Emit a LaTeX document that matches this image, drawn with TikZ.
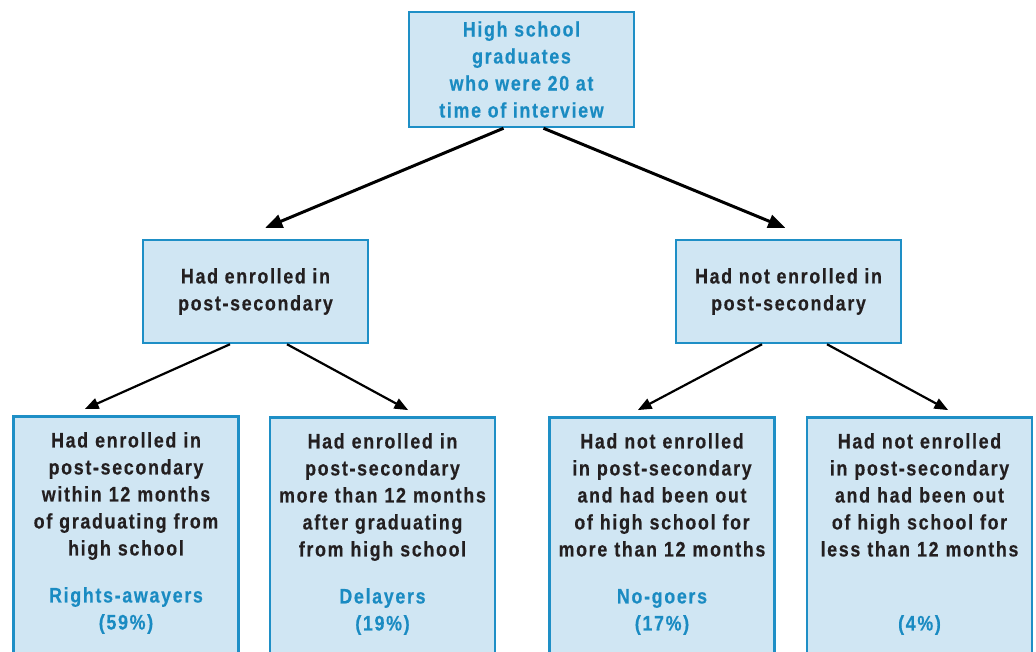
\documentclass[tikz,border=0pt]{standalone}
\usepackage{fontspec}
\setmainfont{Liberation Sans}[FakeStretch=0.85, LetterSpace=8, BoldFeatures={FakeBold=0.4}]
\usepackage{xcolor}
\usetikzlibrary{arrows, calc}
\definecolor{boxfill}{HTML}{D0E6F3}
\definecolor{boxline}{HTML}{1E8FC6}
\definecolor{tblue}{HTML}{1A8BC2}
\definecolor{ink}{HTML}{231F20}
\newcommand\gap{\\[20pt]}

\begin{document}
\begin{tikzpicture}[x=1pt, y=-1pt, >=triangle 45,
  box/.style={draw=boxline, fill=boxfill, line width=2.5pt, align=center,
    font=\fontsize{21}{27}\selectfont\bfseries, text=ink},
  leaf/.style={box, anchor=north, text width=222pt, inner xsep=1.5pt,
    inner ysep=16pt, text depth=215pt}]

\useasboundingbox (0,0) rectangle (1036,652);
\clip (0,0) rectangle (1036,652);

\node[box, minimum width=225pt, minimum height=115pt, text=tblue] (top) at (521.5,69.5)
  {High school\\graduates\\who were 20 at\\time of interview};

\node[box, minimum width=225pt, minimum height=103pt] (enr) at (255.5,291.5)
  {Had enrolled in\\post-secondary};
\node[box, minimum width=225pt, minimum height=103pt] (notenr) at (788.5,291.5)
  {Had not enrolled in\\post-secondary};

\node[leaf] (rights) at (126,415) {Had enrolled in\\post-secondary\\within 12 months\\of graduating from\\high school\gap
  \textcolor{tblue}{Rights-awayers}\\\textcolor{tblue}{(59\%)}};
\node[leaf] (delay) at (382.5,416) {Had enrolled in\\post-secondary\\more than 12 months\\after graduating\\from high school\gap
  \textcolor{tblue}{Delayers}\\\textcolor{tblue}{(19\%)}};
\node[leaf] (nogo) at (662,416) {Had not enrolled\\in post-secondary\\and had been out\\of high school for\\more than 12 months\gap
  \textcolor{tblue}{No-goers}\\\textcolor{tblue}{(17\%)}};
\node[leaf] (recent) at (919.5,416) {Had not enrolled\\in post-secondary\\and had been out\\of high school for\\less than 12 months\gap
  \mbox{}\\\textcolor{tblue}{(4\%)}};

\draw[->, line width=3pt] ([xshift=-18pt]top.south) -- ([xshift=10pt, yshift=11pt]enr.north);
\draw[->, line width=3pt] ([xshift=22pt]top.south) -- ([xshift=-3.5pt, yshift=11pt]notenr.north);

\foreach \from/\fx/\to/\tx in {enr/-25.5/rights/-41, enr/31.5/delay/25.5,
                               notenr/-26.5/nogo/-24, notenr/38.5/recent/28.5}
  \draw[->, line width=2.2pt] ([xshift=\fx pt]\from.south) -- ([xshift=\tx pt, yshift=6pt]\to.north);

\end{tikzpicture}
\end{document}
